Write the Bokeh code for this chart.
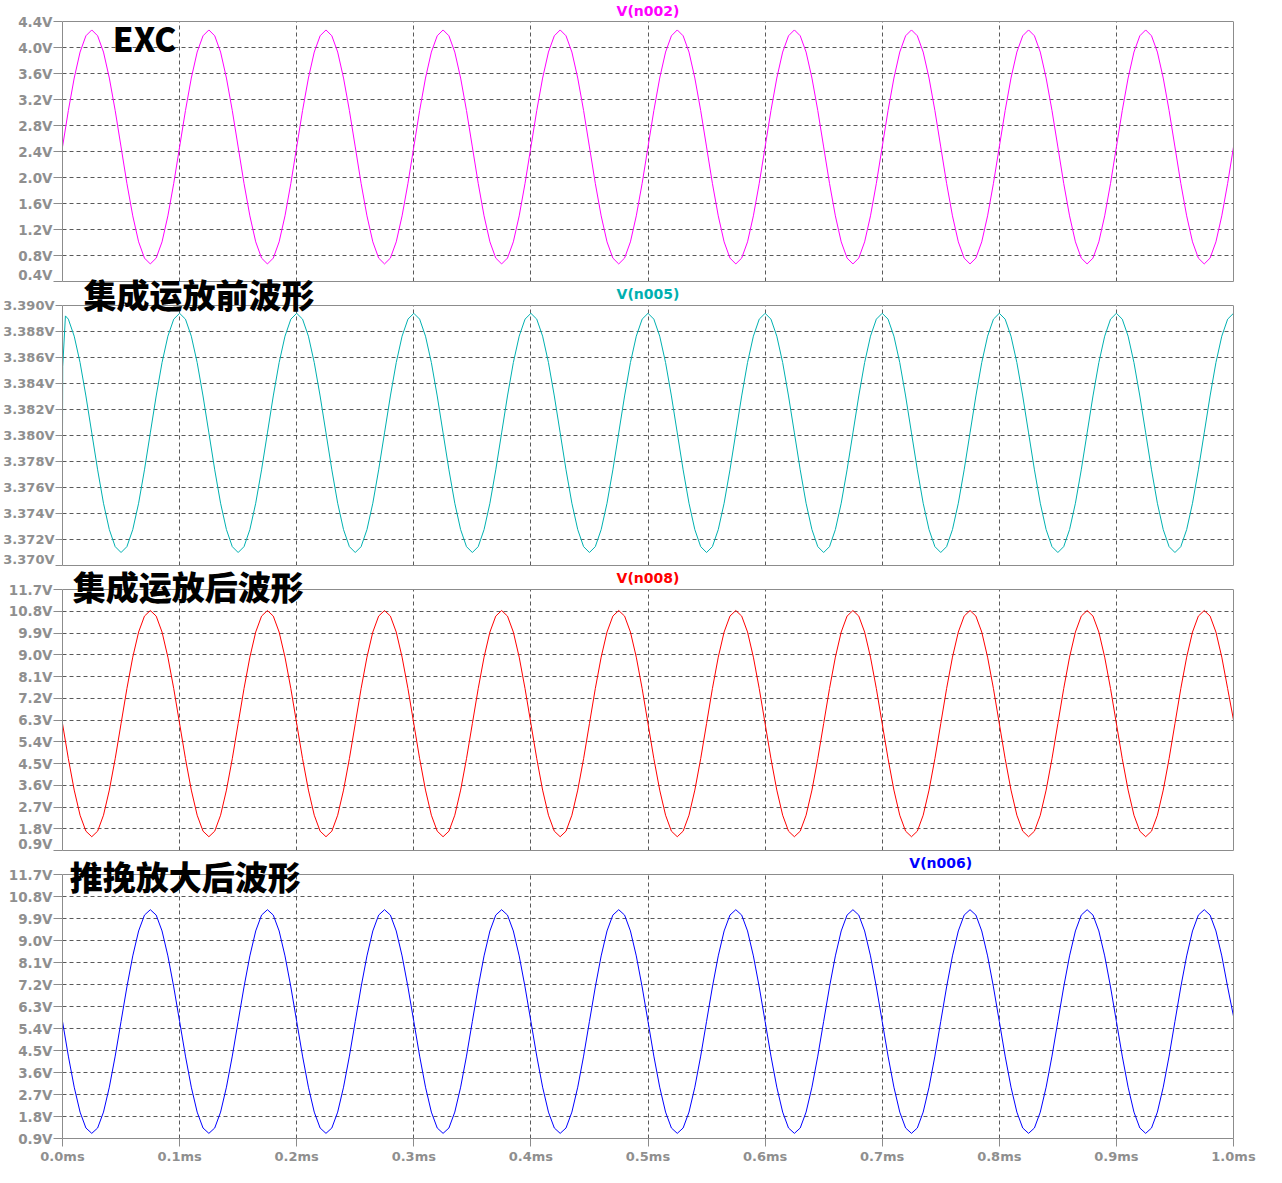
import numpy as np
from bokeh.plotting import figure
from bokeh.models import (Range1d, FixedTicker, PrintfTickFormatter, Label,
                          ColumnDataSource, LinearAxis, Span)
from bokeh.layouts import column
from bokeh.embed import file_html
from bokeh.resources import INLINE

# ---------------- data ----------------
x_ticks_ms = [0.0, 0.1, 0.2, 0.3, 0.4, 0.5, 0.6, 0.7, 0.8, 0.9, 1.0]
y_ticks_n002 = [0.4, 0.8, 1.2, 1.6, 2.0, 2.4, 2.8, 3.2, 3.6, 4.0, 4.4]
y_ticks_n005 = [3.370, 3.372, 3.374, 3.376, 3.378, 3.380, 3.382, 3.384, 3.386, 3.388, 3.390]
y_ticks_n008 = [0.9, 1.8, 2.7, 3.6, 4.5, 5.4, 6.3, 7.2, 8.1, 9.0, 9.9, 10.8, 11.7]
y_ticks_n006 = [0.9, 1.8, 2.7, 3.6, 4.5, 5.4, 6.3, 7.2, 8.1, 9.0, 9.9, 10.8, 11.7]

trace_names = ["V(n002)", "V(n005)", "V(n008)", "V(n006)"]
panel_titles = ["EXC", "集成运放前波形", "集成运放后波形", "推挽放大后波形"]

# simulator sample grid (ms), 0.005 ms steps
sample_times_ms = np.linspace(0.0, 1.0, 201)

# V(n002) read at every sample time (V)
v_n002 = [
    2.47, 3.03, 3.53, 3.93, 4.18, 4.27, 4.18, 3.93, 3.53, 3.03, 2.47, 1.91, 1.41, 1.01, 0.76, 0.67, 0.76, 1.01, 1.41, 1.91,
    2.47, 3.03, 3.53, 3.93, 4.18, 4.27, 4.18, 3.93, 3.53, 3.03, 2.47, 1.91, 1.41, 1.01, 0.76, 0.67, 0.76, 1.01, 1.41, 1.91,
    2.47, 3.03, 3.53, 3.93, 4.18, 4.27, 4.18, 3.93, 3.53, 3.03, 2.47, 1.91, 1.41, 1.01, 0.76, 0.67, 0.76, 1.01, 1.41, 1.91,
    2.47, 3.03, 3.53, 3.93, 4.18, 4.27, 4.18, 3.93, 3.53, 3.03, 2.47, 1.91, 1.41, 1.01, 0.76, 0.67, 0.76, 1.01, 1.41, 1.91,
    2.47, 3.03, 3.53, 3.93, 4.18, 4.27, 4.18, 3.93, 3.53, 3.03, 2.47, 1.91, 1.41, 1.01, 0.76, 0.67, 0.76, 1.01, 1.41, 1.91,
    2.47, 3.03, 3.53, 3.93, 4.18, 4.27, 4.18, 3.93, 3.53, 3.03, 2.47, 1.91, 1.41, 1.01, 0.76, 0.67, 0.76, 1.01, 1.41, 1.91,
    2.47, 3.03, 3.53, 3.93, 4.18, 4.27, 4.18, 3.93, 3.53, 3.03, 2.47, 1.91, 1.41, 1.01, 0.76, 0.67, 0.76, 1.01, 1.41, 1.91,
    2.47, 3.03, 3.53, 3.93, 4.18, 4.27, 4.18, 3.93, 3.53, 3.03, 2.47, 1.91, 1.41, 1.01, 0.76, 0.67, 0.76, 1.01, 1.41, 1.91,
    2.47, 3.03, 3.53, 3.93, 4.18, 4.27, 4.18, 3.93, 3.53, 3.03, 2.47, 1.91, 1.41, 1.01, 0.76, 0.67, 0.76, 1.01, 1.41, 1.91,
    2.47, 3.03, 3.53, 3.93, 4.18, 4.27, 4.18, 3.93, 3.53, 3.03, 2.47, 1.91, 1.41, 1.01, 0.76, 0.67, 0.76, 1.01, 1.41, 1.91,
    2.47,
]

# V(n005): start-up points then the regular samples (V)
t_n005_start = [0.0, 0.0002, 0.0025]
v_n005_start = [3.38015, 3.3853, 3.3892]
v_n005 = [
    3.38895, 3.38764, 3.38561, 3.38304, 3.38020, 3.37736, 3.37479, 3.37276, 3.37145, 3.37100, 3.37145, 3.37276, 3.37479, 3.37736, 3.38020, 3.38304, 3.38561, 3.38764, 3.38895, 3.38940,
    3.38895, 3.38764, 3.38561, 3.38304, 3.38020, 3.37736, 3.37479, 3.37276, 3.37145, 3.37100, 3.37145, 3.37276, 3.37479, 3.37736, 3.38020, 3.38304, 3.38561, 3.38764, 3.38895, 3.38940,
    3.38895, 3.38764, 3.38561, 3.38304, 3.38020, 3.37736, 3.37479, 3.37276, 3.37145, 3.37100, 3.37145, 3.37276, 3.37479, 3.37736, 3.38020, 3.38304, 3.38561, 3.38764, 3.38895, 3.38940,
    3.38895, 3.38764, 3.38561, 3.38304, 3.38020, 3.37736, 3.37479, 3.37276, 3.37145, 3.37100, 3.37145, 3.37276, 3.37479, 3.37736, 3.38020, 3.38304, 3.38561, 3.38764, 3.38895, 3.38940,
    3.38895, 3.38764, 3.38561, 3.38304, 3.38020, 3.37736, 3.37479, 3.37276, 3.37145, 3.37100, 3.37145, 3.37276, 3.37479, 3.37736, 3.38020, 3.38304, 3.38561, 3.38764, 3.38895, 3.38940,
    3.38895, 3.38764, 3.38561, 3.38304, 3.38020, 3.37736, 3.37479, 3.37276, 3.37145, 3.37100, 3.37145, 3.37276, 3.37479, 3.37736, 3.38020, 3.38304, 3.38561, 3.38764, 3.38895, 3.38940,
    3.38895, 3.38764, 3.38561, 3.38304, 3.38020, 3.37736, 3.37479, 3.37276, 3.37145, 3.37100, 3.37145, 3.37276, 3.37479, 3.37736, 3.38020, 3.38304, 3.38561, 3.38764, 3.38895, 3.38940,
    3.38895, 3.38764, 3.38561, 3.38304, 3.38020, 3.37736, 3.37479, 3.37276, 3.37145, 3.37100, 3.37145, 3.37276, 3.37479, 3.37736, 3.38020, 3.38304, 3.38561, 3.38764, 3.38895, 3.38940,
    3.38895, 3.38764, 3.38561, 3.38304, 3.38020, 3.37736, 3.37479, 3.37276, 3.37145, 3.37100, 3.37145, 3.37276, 3.37479, 3.37736, 3.38020, 3.38304, 3.38561, 3.38764, 3.38895, 3.38940,
    3.38895, 3.38764, 3.38561, 3.38304, 3.38020, 3.37736, 3.37479, 3.37276, 3.37145, 3.37100, 3.37145, 3.37276, 3.37479, 3.37736, 3.38020, 3.38304, 3.38561, 3.38764, 3.38895, 3.38940,
]

# V(n008) (V)
v_n008 = [
    6.15, 4.70, 3.40, 2.36, 1.70, 1.47, 1.70, 2.36, 3.40, 4.70, 6.15, 7.60, 8.90, 9.94, 10.60, 10.83, 10.60, 9.94, 8.90, 7.60,
    6.15, 4.70, 3.40, 2.36, 1.70, 1.47, 1.70, 2.36, 3.40, 4.70, 6.15, 7.60, 8.90, 9.94, 10.60, 10.83, 10.60, 9.94, 8.90, 7.60,
    6.15, 4.70, 3.40, 2.36, 1.70, 1.47, 1.70, 2.36, 3.40, 4.70, 6.15, 7.60, 8.90, 9.94, 10.60, 10.83, 10.60, 9.94, 8.90, 7.60,
    6.15, 4.70, 3.40, 2.36, 1.70, 1.47, 1.70, 2.36, 3.40, 4.70, 6.15, 7.60, 8.90, 9.94, 10.60, 10.83, 10.60, 9.94, 8.90, 7.60,
    6.15, 4.70, 3.40, 2.36, 1.70, 1.47, 1.70, 2.36, 3.40, 4.70, 6.15, 7.60, 8.90, 9.94, 10.60, 10.83, 10.60, 9.94, 8.90, 7.60,
    6.15, 4.70, 3.40, 2.36, 1.70, 1.47, 1.70, 2.36, 3.40, 4.70, 6.15, 7.60, 8.90, 9.94, 10.60, 10.83, 10.60, 9.94, 8.90, 7.60,
    6.15, 4.70, 3.40, 2.36, 1.70, 1.47, 1.70, 2.36, 3.40, 4.70, 6.15, 7.60, 8.90, 9.94, 10.60, 10.83, 10.60, 9.94, 8.90, 7.60,
    6.15, 4.70, 3.40, 2.36, 1.70, 1.47, 1.70, 2.36, 3.40, 4.70, 6.15, 7.60, 8.90, 9.94, 10.60, 10.83, 10.60, 9.94, 8.90, 7.60,
    6.15, 4.70, 3.40, 2.36, 1.70, 1.47, 1.70, 2.36, 3.40, 4.70, 6.15, 7.60, 8.90, 9.94, 10.60, 10.83, 10.60, 9.94, 8.90, 7.60,
    6.15, 4.70, 3.40, 2.36, 1.70, 1.47, 1.70, 2.36, 3.40, 4.70, 6.15, 7.60, 8.90, 9.94, 10.60, 10.83, 10.60, 9.94, 8.90, 7.60,
    6.30,
]

# V(n006) (V)
v_n006 = [
    5.69, 4.27, 3.00, 1.98, 1.33, 1.11, 1.33, 1.98, 3.00, 4.27, 5.69, 7.10, 8.37, 9.39, 10.04, 10.26, 10.04, 9.39, 8.37, 7.10,
    5.69, 4.27, 3.00, 1.98, 1.33, 1.11, 1.33, 1.98, 3.00, 4.27, 5.69, 7.10, 8.37, 9.39, 10.04, 10.26, 10.04, 9.39, 8.37, 7.10,
    5.69, 4.27, 3.00, 1.98, 1.33, 1.11, 1.33, 1.98, 3.00, 4.27, 5.69, 7.10, 8.37, 9.39, 10.04, 10.26, 10.04, 9.39, 8.37, 7.10,
    5.69, 4.27, 3.00, 1.98, 1.33, 1.11, 1.33, 1.98, 3.00, 4.27, 5.69, 7.10, 8.37, 9.39, 10.04, 10.26, 10.04, 9.39, 8.37, 7.10,
    5.69, 4.27, 3.00, 1.98, 1.33, 1.11, 1.33, 1.98, 3.00, 4.27, 5.69, 7.10, 8.37, 9.39, 10.04, 10.26, 10.04, 9.39, 8.37, 7.10,
    5.69, 4.27, 3.00, 1.98, 1.33, 1.11, 1.33, 1.98, 3.00, 4.27, 5.69, 7.10, 8.37, 9.39, 10.04, 10.26, 10.04, 9.39, 8.37, 7.10,
    5.69, 4.27, 3.00, 1.98, 1.33, 1.11, 1.33, 1.98, 3.00, 4.27, 5.69, 7.10, 8.37, 9.39, 10.04, 10.26, 10.04, 9.39, 8.37, 7.10,
    5.69, 4.27, 3.00, 1.98, 1.33, 1.11, 1.33, 1.98, 3.00, 4.27, 5.69, 7.10, 8.37, 9.39, 10.04, 10.26, 10.04, 9.39, 8.37, 7.10,
    5.69, 4.27, 3.00, 1.98, 1.33, 1.11, 1.33, 1.98, 3.00, 4.27, 5.69, 7.10, 8.37, 9.39, 10.04, 10.26, 10.04, 9.39, 8.37, 7.10,
    5.69, 4.27, 3.00, 1.98, 1.33, 1.11, 1.33, 1.98, 3.00, 4.27, 5.69, 7.10, 8.37, 9.39, 10.04, 10.26, 10.04, 9.39, 8.37, 7.10,
    5.90,
]

trace_colors = ["#ff00ff", "#00b0b0", "#ff0000", "#0000ff"]

# ---------------- styling ----------------
FRAME_COLOR = "#8c8c8c"
GRID_COLOR = "#5a5a5a"
LABEL_COLOR = "#8f8f8f"
AXIS_FONT = "DejaVu Sans"
CJK_FONT = "'Noto Sans CJK SC Black', 'Noto Sans CJK SC'"
W = 1263
OVERLAP = 20   # each lower panel's canvas slides up under the one above (transparent)


def style_axis(ax, ticks, fmt, tick_out, standoff, size="13px"):
    ax.ticker = FixedTicker(ticks=ticks)
    if fmt is not None:
        ax.formatter = PrintfTickFormatter(format=fmt)
    ax.axis_line_color = FRAME_COLOR
    ax.axis_line_width = 1
    ax.major_tick_in = 0
    ax.major_tick_out = tick_out
    ax.minor_tick_in = 0
    ax.minor_tick_out = 0
    ax.major_tick_line_color = FRAME_COLOR
    ax.major_label_standoff = standoff
    ax.major_label_text_font = AXIS_FONT
    ax.major_label_text_font_style = "bold"
    ax.major_label_text_font_size = size
    ax.major_label_text_color = LABEL_COLOR


def make_panel(t, v, color, yticks, fmt, extra_top, frame_h, bottom, show_x, overlap,
               ysize, ytick_out):
    y0, y1 = yticks[0], yticks[-1]
    top = extra_top + overlap
    # the frame reaches up to the canvas top so that text above the box is not clipped
    y_top = y1 + top * (y1 - y0) / frame_h
    p = figure(width=W, height=top + frame_h + bottom,
               x_range=Range1d(x_ticks_ms[0], x_ticks_ms[-1]), y_range=Range1d(y0, y_top),
               output_backend="svg", toolbar_location=None, title=None,
               x_axis_location="below",
               min_border_left=62, min_border_right=30,
               min_border_top=0, min_border_bottom=bottom)
    if overlap:
        p.margin = (-overlap, 0, 0, 0)
        p.background_fill_color = None
        p.border_fill_color = None
    else:
        p.background_fill_color = "white"
        p.border_fill_color = "white"
    p.outline_line_color = None

    p.xgrid.ticker = FixedTicker(ticks=x_ticks_ms[1:-1])
    p.xgrid.cross_bounds = (y0, y1)
    p.ygrid.ticker = FixedTicker(ticks=yticks[1:-1])
    for g in (p.xgrid, p.ygrid):
        g.grid_line_color = GRID_COLOR
        g.grid_line_dash = "4 3"
        g.grid_line_width = 1

    # left edge + tick labels
    ya = p.yaxis[0]
    style_axis(ya, yticks, fmt, ytick_out, 1, ysize)
    ya.bounds = (y0, y1)

    # bottom edge (+ time labels on the last panel)
    xa = p.xaxis[0]
    if show_x:
        style_axis(xa, x_ticks_ms, "%.1fms", 8, 2, "13px")
    else:
        style_axis(xa, [], None, 0, 0)

    # right edge
    ra = LinearAxis()
    style_axis(ra, [], None, 0, 0)
    ra.bounds = (y0, y1)
    p.add_layout(ra, "right")

    # top edge
    p.add_layout(Span(location=y1, dimension="width", line_color=FRAME_COLOR, line_width=1))

    src = ColumnDataSource(dict(t=list(t), v=list(v)))
    p.line(x="t", y="v", source=src, line_color=color, line_width=1)
    return p


def add_trace_name(p, text, color, x, y, dy):
    p.add_layout(Label(x=x, y=y, x_units="data", y_units="data", y_offset=dy,
                       text=text, text_color=color, text_font=AXIS_FONT,
                       text_font_style="bold", text_font_size="14px",
                       text_align="center", text_baseline="middle"))


def add_panel_title(p, text, x, y, dy):
    p.add_layout(Label(x=x, y=y, x_units="data", y_units="data", y_offset=dy,
                       text=text, text_color="black", text_font=CJK_FONT,
                       text_font_style="bold", text_font_size="33px",
                       text_align="left", text_baseline="middle"))


t_n005 = t_n005_start + list(sample_times_ms[1:])
v_n005_all = v_n005_start + v_n005

p1 = make_panel(sample_times_ms, v_n002, trace_colors[0], y_ticks_n002, "%.1fV", 21, 260, 1, False, 0, "13.5px", 9)
p2 = make_panel(t_n005, v_n005_all, trace_colors[1], y_ticks_n005, "%.3fV", 23, 260, 1, False, OVERLAP, "13px", 7)
p3 = make_panel(sample_times_ms, v_n008, trace_colors[2], y_ticks_n008, "%.1fV", 23, 261, 1, False, OVERLAP, "13.5px", 9)
p4 = make_panel(sample_times_ms, v_n006, trace_colors[3], y_ticks_n006, "%.1fV", 23, 264, 32, True, OVERLAP, "13.5px", 9)

add_trace_name(p1, trace_names[0], trace_colors[0], 0.5, y_ticks_n002[-1], 11)
add_trace_name(p2, trace_names[1], trace_colors[1], 0.5, y_ticks_n005[-1], 12)
add_trace_name(p3, trace_names[2], trace_colors[2], 0.5, y_ticks_n008[-1], 12)
add_trace_name(p4, trace_names[3], trace_colors[3], 0.75, y_ticks_n006[-1], 12)

add_panel_title(p1, panel_titles[0], 0.0430, y_ticks_n002[-1], -16)
add_panel_title(p2, panel_titles[1], 0.0180, y_ticks_n005[-1], 12)
add_panel_title(p3, panel_titles[2], 0.0088, y_ticks_n008[-1], 4)
add_panel_title(p4, panel_titles[3], 0.0062, y_ticks_n006[-1], -1)

layout = column(p1, p2, p3, p4, spacing=0)
open("out.html", "w").write(file_html(layout, INLINE))
